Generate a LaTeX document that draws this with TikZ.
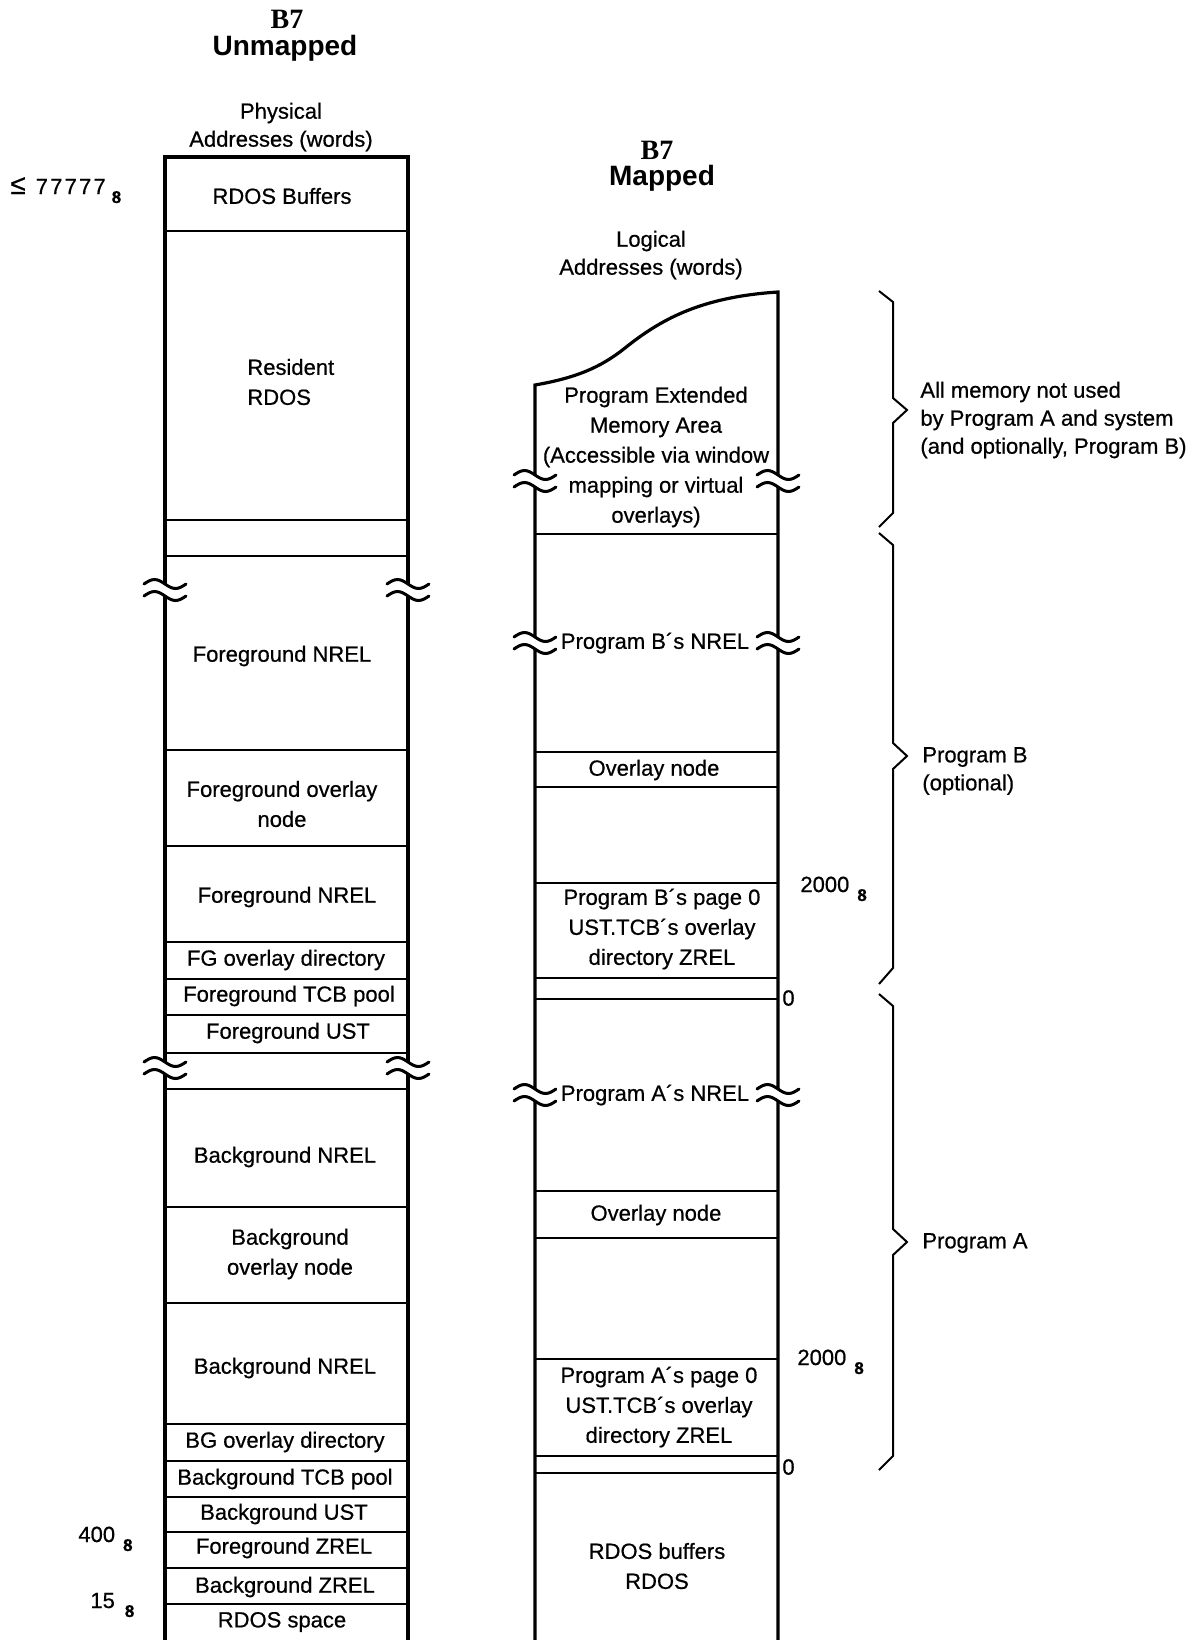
\documentclass[tikz,border=0pt]{standalone}
\usepackage{fontspec}
\setmainfont{Liberation Sans}
\newfontfamily\medfont{Liberation Sans}[FakeBold=0.6]
\newfontfamily\serifbf{Liberation Serif}
\newcommand\brkmark[2]{%
  \fill[white] (#1-5,#2-6) rectangle (#1+5,#2+6);
  \draw[brk] (#1-21,#2-6) sin (#1-10.5,#2-10.5) cos (#1,#2-6) sin (#1+10.5,#2-1.5) cos (#1+21,#2-6);
  \draw[brk] (#1-21,#2+6) sin (#1-10.5,#2+1.5) cos (#1,#2+6) sin (#1+10.5,#2+10.5) cos (#1+21,#2+6);
}
\newcommand\subeight{\raisebox{-4.5pt}{\fontsize{8.5}{9}\selectfont\bfseries 8}}
\begin{document}
\begin{tikzpicture}[x=0.5pt,y=-0.5pt,
  txt/.style={font=\fontsize{11}{15}\selectfont\medfont, inner sep=0pt, align=center},
  txtb/.style={font=\fontsize{11}{14}\selectfont\medfont, inner sep=0pt, align=center},
  side/.style={font=\fontsize{11}{14}\selectfont\medfont, inner sep=0pt, align=left, anchor=west},
  num/.style={font=\fontsize{11}{13}\selectfont\medfont, inner sep=0pt, anchor=base west},
  wall/.style={line width=1.6pt},
  sep/.style={line width=1.35pt},
  brk/.style={line width=1.5pt, line cap=round},
  brace/.style={line width=1pt, line join=miter},
  head/.style={font=\fontsize{14}{16}\selectfont\bfseries, inner sep=0pt},
  headB/.style={font=\fontsize{14}{16}\selectfont\serifbf\bfseries, inner sep=0pt},
]
\useasboundingbox (0,0) rectangle (1193,1640);

% ---------- headings ----------
\node[headB] (b7l) at (287,19) {B7};
\node[head] (unm) at (285,48) {Unmapped};
\node[txtb] (phys) at (281,127) {Physical\\Addresses (words)};
\node[headB] (b7r) at (657,150) {B7};
\node[head] (map) at (662,178) {Mapped};
\node[txtb] (logi) at (651,255) {Logical\\Addresses (words)};

% ---------- left column ----------
\draw[wall] (165,1640) -- (165,157) -- (408,157) -- (408,1640);
\foreach \y in {231,520,556,750,846,942,979,1015,1053,1089,1207,1303,1424,1461,1497,1532,1568,1604}
  \draw[sep] (165,\y) -- (408,\y);
\brkmark{165}{590}
\brkmark{408}{590}
\brkmark{165}{1068}
\brkmark{408}{1068}

\node[txt] (rbuf) at (282,196) {RDOS Buffers};
\node[txt, align=left, anchor=west] (res) at (247,382) {Resident\\RDOS};
\node[txt] (fgn1) at (282,656) {Foreground NREL};
\node[txt] (fgov) at (282,804) {Foreground overlay\\node};
\node[txt] (fgn2) at (287,897) {Foreground NREL};
\node[txt] (fgdir) at (286,960) {FG overlay directory};
\node[txt] (fgtcb) at (289,996) {Foreground TCB pool};
\node[txt] (fgust) at (288,1033) {Foreground UST};
\node[txt] (bgn1) at (285,1157) {Background NREL};
\node[txt] (bgov) at (290,1254) {Background\\overlay node};
\node[txt] (bgn2) at (285,1368) {Background NREL};
\node[txt] (bgdir) at (285,1442) {BG overlay directory};
\node[txt] (bgtcb) at (285,1479) {Background TCB pool};
\node[txt] (bgust) at (284,1514) {Background UST};
\node[txt] (fgz) at (284,1548) {Foreground ZREL};
\node[txt] (bgz) at (285,1587) {Background ZREL};
\node[txt] (rsp) at (282,1622) {RDOS space};

% left address labels
\node[num] (atop) at (10,194) {{\fontsize{14}{14}\selectfont ≤}\hspace{5pt}{\addfontfeature{LetterSpace=10}77777}\hspace{3pt}\subeight};
\node[num] (a400) at (78,1542) {400\hspace{4pt}\subeight};
\node[num] (a15) at (90,1608) {15\hspace{5pt}\subeight};

% ---------- right column ----------
\draw[wall] (535,1640) -- (535,385) .. controls (575,378) and (600,368) .. (625,348)
  .. controls (660,320) and (700,297) .. (778,292) -- (778,1640);
\foreach \y in {534,752,787,883,978,999,1191,1238,1359,1456,1473}
  \draw[sep] (535,\y) -- (778,\y);
\brkmark{535}{481}
\brkmark{778}{481}
\brkmark{535}{643}
\brkmark{778}{643}
\brkmark{535}{1095}
\brkmark{778}{1095}

\node[txt] (pext) at (656,457) {Program Extended\\Memory Area\\(Accessible via window\\mapping or virtual\\overlays)};
\node[txt, fill=white, inner xsep=2pt] (pbn) at (655,643) {Program B´s NREL};
\node[txt] (ovb) at (654,770) {Overlay node};
\node[txt] (pb0) at (662,929) {Program B´s page 0\\UST.TCB´s overlay\\directory ZREL};
\node[txt, fill=white, inner xsep=2pt] (pan) at (655,1095) {Program A´s NREL};
\node[txt] (ova) at (656,1215) {Overlay node};
\node[txt] (pa0) at (659,1407) {Program A´s page 0\\UST.TCB´s overlay\\directory ZREL};
\node[txt] (rbufs) at (657,1566) {RDOS buffers\\RDOS};

% right address labels
\node[num] (b2000) at (800,892) {2000\hspace{4pt}\subeight};
\node[num] (a2000) at (797,1365) {2000\hspace{4pt}\subeight};
\node[txt, anchor=west] (z1) at (782,998) {0};
\node[txt, anchor=west] (z2) at (782,1467) {0};

% ---------- braces and notes ----------
\draw[brace] (879,291) -- (893,302) -- (893,398) -- (907,410) -- (893,423) -- (893,513) -- (879,527);
\draw[brace] (879,533) -- (893,545) -- (893,743) -- (907,756) -- (893,769) -- (893,968) -- (879,984);
\draw[brace] (879,994) -- (893,1006) -- (893,1229) -- (907,1242) -- (893,1255) -- (893,1456) -- (879,1470);

\node[side] (allm) at (920,420) {All memory not used\\by Program A and system\\(and optionally, Program B)};
\node[side] (progb) at (922,771) {Program B\\(optional)};
\node[side] (proga) at (922,1243) {Program A};
\end{tikzpicture}
\end{document}
